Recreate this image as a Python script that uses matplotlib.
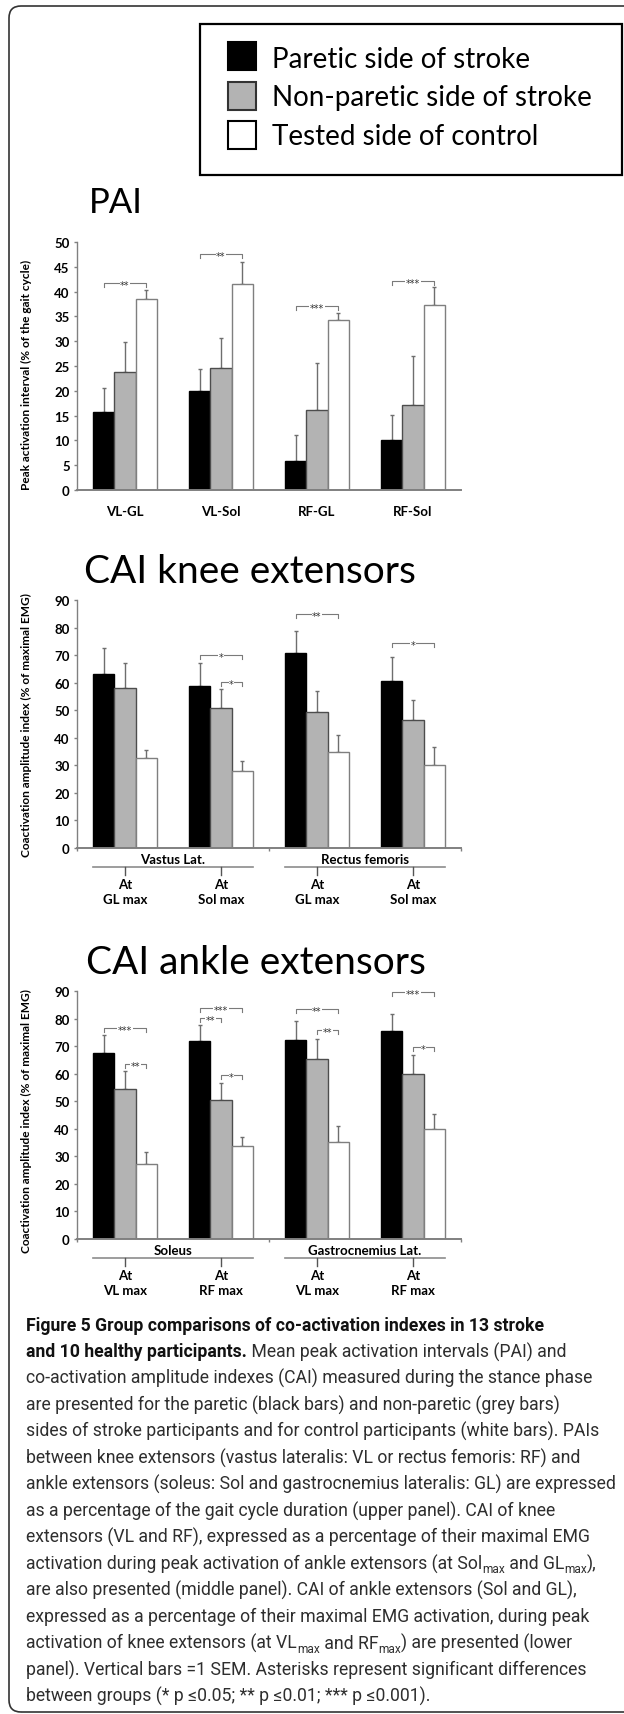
import matplotlib
matplotlib.use('Agg')
import matplotlib.pyplot as plt
import matplotlib.transforms as mtransforms
from matplotlib import font_manager as fm
from matplotlib.patches import Rectangle, FancyBboxPatch
import numpy as np

W, H = 624, 1715

# groups / colours
groups = ['Paretic side of stroke', 'Non-paretic side of stroke', 'Tested side of control']
bar_colors = ['#000000', '#b3b3b3', '#ffffff']
bar_edges = ['#000000', '#4d4d4d', '#7f7f7f']

# PAI panel
pai_labels = ['VL-GL', 'VL-Sol', 'RF-GL', 'RF-Sol']
pai_paretic = [15.7, 19.9, 5.9, 10.0]
pai_paretic_sem = [4.8, 4.4, 5.1, 5.2]
pai_nonparetic = [23.7, 24.6, 16.2, 17.1]
pai_nonparetic_sem = [6.1, 6.1, 9.4, 10.0]
pai_control = [38.5, 41.5, 34.3, 37.3]
pai_control_sem = [1.9, 4.4, 1.3, 3.6]
# (category, from bar, to bar, height, stars) ; bars: 0 paretic, 1 non-paretic, 2 control
pai_sig = [(0, 0, 2, 41.8, '**'), (1, 0, 2, 47.5, '**'),
           (2, 0, 2, 37.1, '***'), (3, 0, 2, 42.1, '***')]

# CAI knee extensors
knee_outer = ['Vastus Lat.', 'Rectus femoris']
knee_inner = ['At\nGL max', 'At\nSol max', 'At\nGL max', 'At\nSol max']
knee_paretic = [63.1, 58.8, 70.8, 60.7]
knee_paretic_sem = [9.5, 8.2, 7.9, 8.5]
knee_nonparetic = [58.0, 50.7, 49.5, 46.4]
knee_nonparetic_sem = [9.2, 7.1, 7.5, 7.2]
knee_control = [32.7, 27.9, 34.8, 30.3]
knee_control_sem = [3.0, 3.6, 6.1, 6.3]
knee_sig = [(1, 0, 2, 70.1, '*'), (1, 1, 2, 60.1, '*'),
            (2, 0, 2, 85.0, '**'), (3, 0, 2, 74.5, '*')]

# CAI ankle extensors
ankle_outer = ['Soleus', 'Gastrocnemius Lat.']
ankle_inner = ['At\nVL max', 'At\nRF max', 'At\nVL max', 'At\nRF max']
ankle_paretic = [67.6, 71.9, 72.3, 75.5]
ankle_paretic_sem = [6.4, 5.8, 6.9, 6.1]
ankle_nonparetic = [54.5, 50.4, 65.5, 59.7]
ankle_nonparetic_sem = [6.5, 6.3, 7.2, 7.1]
ankle_control = [27.3, 33.6, 35.1, 40.0]
ankle_control_sem = [4.3, 3.4, 5.8, 5.4]
ankle_sig = [(0, 0, 2, 76.5, '***'), (0, 1, 2, 63.4, '**'),
             (1, 0, 2, 84.0, '***'), (1, 0, 1, 80.1, '**'), (1, 1, 2, 59.4, '*'),
             (2, 0, 2, 83.4, '**'), (2, 1, 2, 75.9, '**'),
             (3, 0, 2, 89.5, '***'), (3, 1, 2, 69.5, '*')]

caption = [
    [('Figure 5 Group comparisons of co-activation indexes in 13 stroke', 'b')],
    [('and 10 healthy participants.', 'b'), (' Mean peak activation intervals (PAI) and', 'n')],
    [('co-activation amplitude indexes (CAI) measured during the stance phase', 'n')],
    [('are presented for the paretic (black bars) and non-paretic (grey bars)', 'n')],
    [('sides of stroke participants and for control participants (white bars). PAIs', 'n')],
    [('between knee extensors (vastus lateralis: VL or rectus femoris: RF) and', 'n')],
    [('ankle extensors (soleus: Sol and gastrocnemius lateralis: GL) are expressed', 'n')],
    [('as a percentage of the gait cycle duration (upper panel). CAI of knee', 'n')],
    [('extensors (VL and RF), expressed as a percentage of their maximal EMG', 'n')],
    [('activation during peak activation of ankle extensors (at Sol', 'n'), ('max', 's'),
     (' and GL', 'n'), ('max', 's'), ('),', 'n')],
    [('are also presented (middle panel). CAI of ankle extensors (Sol and GL),', 'n')],
    [('expressed as a percentage of their maximal EMG activation, during peak', 'n')],
    [('activation of knee extensors (at VL', 'n'), ('max', 's'), (' and RF', 'n'), ('max', 's'),
     (') are presented (lower', 'n')],
    [('panel). Vertical bars =1 SEM. Asterisks represent significant differences', 'n')],
    [('between groups (* p \u22640.05; ** p \u22640.01; *** p \u22640.001).', 'n')],
]

names = {f.name for f in fm.fontManager.ttflist}
main_font = 'Lato' if 'Lato' in names else 'DejaVu Sans'
cap_font = next((n for n in ['Liberation Sans Narrow', 'Roboto', 'Lato'] if n in names), 'DejaVu Sans')
cap_family = [cap_font, 'DejaVu Sans']
plt.rcParams['font.family'] = [main_font, 'DejaVu Sans']

fig = plt.figure(figsize=(W / 100, H / 100), dpi=100)
P = mtransforms.IdentityTransform()   # pixel coords, origin bottom-left

# outer rounded frame
fig.add_artist(FancyBboxPatch((9, H - 1713), 700, 1706, boxstyle='round,pad=0,rounding_size=12',
                              fc='none', ec='#333333', lw=1.2, transform=P))

# legend box
fig.add_artist(Rectangle((200, H - 176), 422, 151, fill=False, ec='black', lw=1.6, transform=P))
legend_edges = ['#000000', '#333333', '#000000']
for i, lab in enumerate(groups):
    yc = 57 + 39.5 * i
    fig.add_artist(Rectangle((228, H - yc - 14), 28, 28, fc=bar_colors[i], ec=legend_edges[i],
                             lw=1.5, transform=P))
    fig.text(272, H - (68 + 38.5 * i), lab, transform=P, fontsize=20, va='baseline')

offs = [-0.22, 0.0, 0.22]
AX_H = 248


def draw_panel(ax, means, sems, ymax, step, sig, ylabel, ylab_pos):
    x = np.arange(4)
    for k in range(3):
        ax.bar(x + offs[k], means[k], width=0.22, color=bar_colors[k], edgecolor=bar_edges[k],
               linewidth=1, zorder=2)
        ax.errorbar(x + offs[k], means[k], yerr=[np.zeros(4), sems[k]], fmt='none',
                    ecolor='#6e6e6e', elinewidth=1, capsize=1.6, capthick=1, zorder=1)
    tick = ymax * 0.016
    star_tr = mtransforms.offset_copy(ax.transData, fig=ax.figure, y=-3.6, units='points')
    for slot, a, b, y, stars in sig:
        x1, x2 = slot + offs[a], slot + offs[b]
        ax.plot([x1, x1, x2, x2], [y - tick, y, y, y - tick], color='#7a7a7a', lw=0.8,
                clip_on=False, zorder=3)
        ax.text((x1 + x2) / 2, y, stars, ha='center', va='baseline', fontsize=7,
                color='#333333', transform=star_tr, family='DejaVu Sans',
                bbox=dict(fc='white', ec='none', pad=0.3), zorder=4, clip_on=False)
    ax.set_xlim(-0.5, 3.5)
    ax.set_ylim(0, ymax)
    ax.set_yticks(np.arange(0, ymax + 1, step))
    for s in ['top', 'right']:
        ax.spines[s].set_visible(False)
    ax.spines['left'].set_color('#808080')
    ax.spines['left'].set_linewidth(1)
    ax.spines['bottom'].set_color('#808080')
    ax.spines['bottom'].set_linewidth(1.4)
    ax.tick_params(axis='y', length=2.2, width=1, color='#808080', pad=3, labelsize=9.5)
    for lab in ax.get_yticklabels():
        lab.set_fontweight('bold')
    ax.set_ylabel(ylabel, fontsize=8.6, fontweight='bold')
    ax.yaxis.set_label_coords(-45 / 384, ylab_pos)


def group_axis(ax, outer, inner):
    trans = mtransforms.blended_transform_factory(ax.transData, ax.transAxes)
    ax.set_xticks([-0.5, 1.5, 3.5])
    ax.set_xticklabels([])
    ax.tick_params(axis='x', length=2.2, width=1, color='#808080')
    for g, name in enumerate(outer):
        ax.text(2 * g + 0.5, -11.5 / AX_H, name, transform=trans, ha='center', va='center',
                fontsize=9.5, fontweight='bold')
        ax.plot([2 * g - 0.33, 2 * g + 1.33], [-19 / AX_H] * 2, transform=trans, color='#8c8c8c',
                lw=1.2, clip_on=False)
    for i, name in enumerate(inner):
        ax.plot([i, i], [-19 / AX_H, -27 / AX_H], transform=trans, color='#555555', lw=1,
                clip_on=False)
        ax.text(i, -44 / AX_H, name, transform=trans, ha='center', va='center', fontsize=9.5,
                fontweight='bold', linespacing=1.3)


# PAI
fig.text(89, H - 213, 'PAI', transform=P, fontsize=25, va='baseline')
ax1 = fig.add_axes([77 / W, (H - 491) / H, 384 / W, AX_H / H])
draw_panel(ax1, [pai_paretic, pai_nonparetic, pai_control],
           [pai_paretic_sem, pai_nonparetic_sem, pai_control_sem], 50, 5, pai_sig,
           'Peak activation interval (% of the gait cycle)', 0.47)
ax1.set_xticks(range(4))
ax1.set_xticklabels([])
ax1.tick_params(axis='x', length=0)
t1 = mtransforms.blended_transform_factory(ax1.transData, ax1.transAxes)
for i, lab in enumerate(pai_labels):
    ax1.text(i, -21 / AX_H, lab, transform=t1, ha='center', va='center', fontsize=9.5,
             fontweight='bold')

# CAI knee extensors
fig.text(84, H - 583, 'CAI knee extensors', transform=P, fontsize=28, va='baseline')
ax2 = fig.add_axes([77 / W, (H - 849) / H, 384 / W, AX_H / H])
draw_panel(ax2, [knee_paretic, knee_nonparetic, knee_control],
           [knee_paretic_sem, knee_nonparetic_sem, knee_control_sem], 90, 10, knee_sig,
           'Coactivation amplitude index (% of maximal EMG)', 0.5)
group_axis(ax2, knee_outer, knee_inner)

# CAI ankle extensors
fig.text(86, H - 974, 'CAI ankle extensors', transform=P, fontsize=28, va='baseline')
ax3 = fig.add_axes([77 / W, (H - 1240) / H, 384 / W, AX_H / H])
draw_panel(ax3, [ankle_paretic, ankle_nonparetic, ankle_control],
           [ankle_paretic_sem, ankle_nonparetic_sem, ankle_control_sem], 90, 10, ankle_sig,
           'Coactivation amplitude index (% of maximal EMG)', 0.48)
group_axis(ax3, ankle_outer, ankle_inner)


# caption, drawn run by run so bold words and subscripts sit inline
def run_props(kind, size):
    sub = kind == 's'
    return dict(fontsize=size * (0.68 if sub else 1),
                fontweight='bold' if kind == 'b' else 'normal',
                color='#111111' if kind == 'b' else '#2e2e2e',
                family=cap_family)


fig.canvas.draw()
r = fig.canvas.get_renderer()
widths = []
for line in caption:
    w = 0
    for txt, kind in line:
        probe = fig.text(0, 0, txt, transform=P, **run_props(kind, 10))
        w += probe.get_window_extent(r).width
        probe.remove()
    widths.append(w)
cap_size = 10 * 590 / max(widths)

for i, line in enumerate(caption):
    x = 26
    base = 1331 + i * 26.5
    for txt, kind in line:
        t = fig.text(x, H - base - (4 if kind == 's' else 0), txt, transform=P, va='baseline',
                     **run_props(kind, cap_size))
        x += t.get_window_extent(r).width

fig.savefig('out.png', dpi=100)
